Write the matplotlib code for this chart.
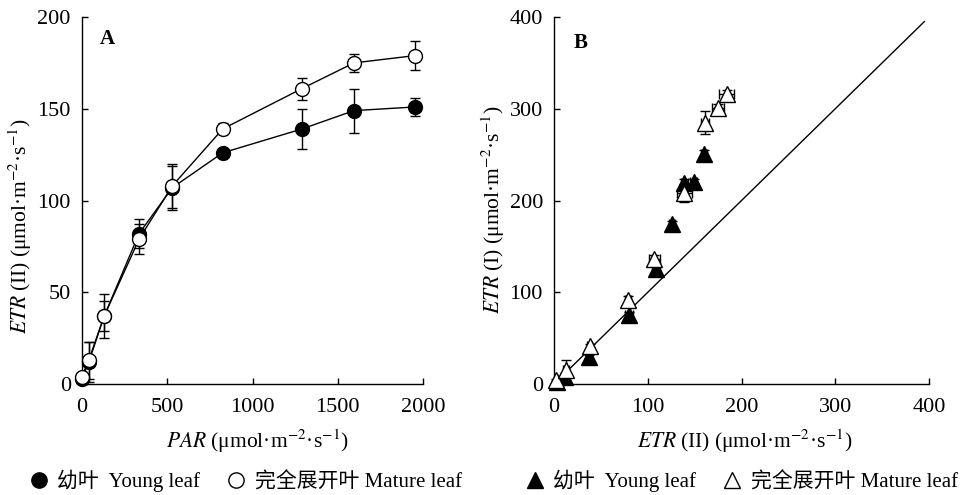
import matplotlib
matplotlib.use("Agg")
import matplotlib.pyplot as plt
from matplotlib.lines import Line2D

plt.rcParams['font.family'] = ['Liberation Serif', 'Noto Sans CJK SC', 'DejaVu Sans']
plt.rcParams['mathtext.fontset'] = 'stix'
plt.rcParams['font.size'] = 15

# Panel A data
par = [0, 40, 130, 335, 530, 825, 1290, 1595, 1955]
young_etr2 = [3, 12, 37, 82, 107, 126, 139, 149, 151]
young_etr2_err = [2, 11, 12, 8, 12, 2, 11, 12, 5]
mature_etr2 = [4, 13, 37, 79, 108, 139, 161, 175, 179]
mature_etr2_err = [2, 10, 8, 8, 12, 3, 6, 5, 8]

# Panel B data
young_x = [3, 12, 37, 80, 109, 126, 139, 149, 160]
young_y = [2, 8, 29, 75, 125, 174, 219, 220, 251]
young_xerr = [1, 3, 3, 4, 4, 3, 4, 4, 3]
young_yerr = [1, 4, 3, 4, 4, 4, 5, 4, 4]
mature_x = [2, 13, 38, 79, 107, 139, 161, 175, 184]
mature_y = [4, 15, 41, 92, 136, 208, 285, 301, 316]
mature_xerr = [1, 3, 3, 3, 6, 8, 4, 6, 8]
mature_yerr = [1, 11, 3, 4, 5, 10, 13, 4, 5]
line_11 = [0, 395]

legend_young = '幼叶  Young leaf'
legend_mature = '完全展开叶 Mature leaf'
unit = r' (μmol·m$^{-2}$·s$^{-1}$)'

fig = plt.figure(figsize=(9.61, 4.95), dpi=100)
axA = fig.add_axes([0.0853, 0.2242, 0.3549, 0.7414])
axB = fig.add_axes([0.5765, 0.2242, 0.3902, 0.7414])

for ax in (axA, axB):
    ax.spines['top'].set_visible(False)
    ax.spines['right'].set_visible(False)
    ax.tick_params(direction='in', length=4, width=1, labelsize=16)
    ax.tick_params(axis='x', pad=10)
    ax.tick_params(axis='y', pad=8)
    for s in ('left', 'bottom'):
        ax.spines[s].set_linewidth(1.0)

ek = dict(capsize=3.5, elinewidth=1, capthick=1, ecolor='black', clip_on=False)
axA.errorbar(par, young_etr2, yerr=young_etr2_err, fmt='-o', color='black',
             mfc='black', mec='black', ms=10, lw=1, zorder=3, **ek)
axA.errorbar(par, mature_etr2, yerr=mature_etr2_err, fmt='-o', color='black',
             mfc='white', mec='black', ms=10, lw=1, mew=1, zorder=4, **ek)
axA.set_xlim(0, 2000)
axA.set_ylim(0, 200)
axA.set_xticks([0, 500, 1000, 1500, 2000])
axA.set_yticks([0, 50, 100, 150, 200])
axA.set_xlabel(r'$\it{PAR}$' + unit, fontsize=15.5, va='center', ha='center')
axA.xaxis.set_label_coords(0.515, -0.155)
axA.set_ylabel(r'$\it{ETR}$ (II)' + unit, fontsize=15.5, va='center', ha='center')
axA.yaxis.set_label_coords(-0.182, 0.43)
axA.text(0.075, 0.94, 'A', transform=axA.transAxes, fontweight='bold', fontsize=15,
         va='center', ha='center')
for c in axA.get_children():
    try:
        c.set_clip_on(False)
    except Exception:
        pass

axB.plot(line_11, line_11, color='black', lw=1, zorder=2)
axB.errorbar(young_x, young_y, xerr=young_xerr, yerr=young_yerr, fmt='^',
             mfc='black', mec='black', ms=11, zorder=3, **ek)
axB.errorbar(mature_x, mature_y, xerr=mature_xerr, yerr=mature_yerr, fmt='^',
             mfc='white', mec='black', ms=11, mew=1, zorder=4, **ek)
axB.set_xlim(0, 400)
axB.set_ylim(0, 400)
axB.set_xticks([0, 100, 200, 300, 400])
axB.set_yticks([0, 100, 200, 300, 400])
axB.set_xlabel(r'$\it{ETR}$ (II)' + unit, fontsize=15.5, va='center', ha='center')
axB.xaxis.set_label_coords(0.509, -0.157)
axB.set_ylabel(r'$\it{ETR}$ (I)' + unit, fontsize=15.5, va='center', ha='center')
axB.yaxis.set_label_coords(-0.163, 0.474)
axB.text(0.07, 0.93, 'B', transform=axB.transAxes, fontweight='bold', fontsize=15,
         va='center', ha='center')

hA = [Line2D([], [], ls='none', marker='o', ms=11, mfc='black', mec='black'),
      Line2D([], [], ls='none', marker='o', ms=11, mfc='white', mec='black')]
fig.legend(hA, [legend_young, legend_mature], loc='center', ncol=2,
           bbox_to_anchor=(0.255, 1 - 481 / 495), frameon=False, fontsize=15,
           handlelength=1.0, handletextpad=0.4, columnspacing=1.2)
hB = [Line2D([], [], ls='none', marker='^', ms=12, mfc='black', mec='black'),
      Line2D([], [], ls='none', marker='^', ms=12, mfc='white', mec='black')]
fig.legend(hB, [legend_young, legend_mature], loc='center', ncol=2,
           bbox_to_anchor=(0.771, 1 - 481 / 495), frameon=False, fontsize=15,
           handlelength=1.0, handletextpad=0.4, columnspacing=1.2)

fig.savefig('out.png', dpi=100)
